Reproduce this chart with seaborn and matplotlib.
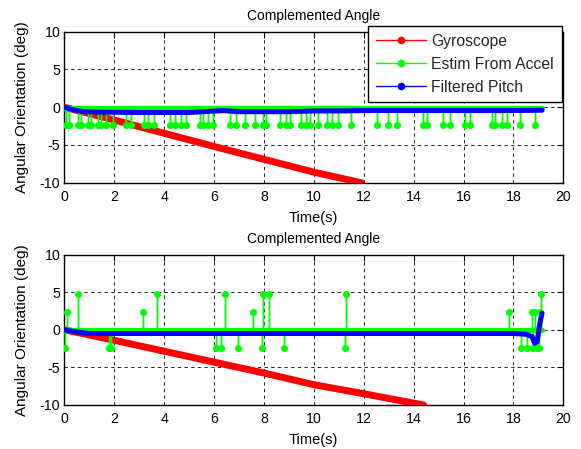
import numpy as np
import pandas as pd
import seaborn as sns
import matplotlib
matplotlib.use("Agg")
import matplotlib.pyplot as plt
from matplotlib.lines import Line2D

# ---------------- data ----------------
t_end_top = 19.15
t_end_bot = 19.15

gyro_top_t = [0.0, 2.0, 4.0, 6.0, 8.0, 10.0, 11.9]
gyro_top_v = [0.0, -1.7, -3.45, -5.2, -6.9, -8.6, -10.0]

accel_top_base = -0.1
accel_top_spike_t = [0.07, 0.2, 0.54, 0.67, 0.94, 1.07, 1.34, 1.47, 1.67, 1.94,
                     2.48, 2.68, 3.21, 3.35, 3.61, 4.22, 4.42, 4.69, 4.89, 5.42,
                     5.56, 5.76, 5.96, 6.63, 6.9, 7.23, 7.63, 7.97, 8.1, 8.63,
                     8.9, 9.04, 9.5, 9.7, 9.84, 10.17, 10.51, 10.71, 10.98, 11.51,
                     12.52, 12.98, 13.32, 14.39, 14.53, 15.19, 15.46, 16.06, 16.27,
                     17.14, 17.27, 17.54, 17.74, 18.27, 18.88]
accel_top_spike_level = -2.3

blue_top_t = [0.0, 0.3, 0.8, 1.5, 3.0, 5.0, 6.4, 7.0, 9.0, 10.0, 11.0, 12.0, 14.0, 16.0, 18.0, 19.15]
blue_top_v = [0.0, -0.3, -0.6, -0.65, -0.7, -0.7, -0.45, -0.6, -0.6, -0.5, -0.5, -0.45, -0.45, -0.45, -0.45, -0.4]

gyro_bot_t = [0.0, 2.0, 4.0, 6.0, 8.0, 10.0, 12.0, 14.4]
gyro_bot_v = [0.0, -1.4, -2.85, -4.3, -5.75, -7.3, -8.5, -10.0]

accel_bot_base = 0.0
accel_bot_spike_t = [0.02, 0.1, 0.53, 1.79, 1.86, 3.15, 3.72, 6.1, 6.27, 6.43,
                     6.97, 7.58, 7.91, 7.95, 8.19, 8.81, 11.24, 11.31, 17.83, 18.3,
                     18.54, 18.74, 18.8, 18.88, 18.95, 19.02, 19.06, 19.1]
accel_bot_spike_v = [-2.4, 2.3, 4.7, -2.4, -2.4, 2.3, 4.7, -2.4, -2.4, 4.7,
                     -2.4, 2.3, -2.4, 4.7, 4.7, -2.4, -2.4, 4.7, 2.3, -2.4,
                     -2.4, 2.3, -2.4, 2.3, -2.4, -2.4, 2.3, 4.7]

blue_bot_t = [0.0, 0.5, 1.0, 3.0, 6.0, 9.0, 12.0, 15.0, 18.0, 18.5, 18.75, 18.85, 18.95, 19.02, 19.08, 19.15]
blue_bot_v = [0.0, -0.3, -0.5, -0.5, -0.5, -0.5, -0.5, -0.5, -0.5, -0.6, -0.9, -1.8, -1.6, 0.0, 1.2, 2.2]

x_ticks = [0, 2, 4, 6, 8, 10, 12, 14, 16, 18, 20]
y_ticks = [-10, -5, 0, 5, 10]
title_text = "Complemented Angle"
x_label = "Time(s)"
y_label = "Angular Orientation (deg)"
legend_labels = ["Gyroscope", "Estim From Accel", "Filtered Pitch"]

RED, GREEN, BLUE = "#ff0000", "#00ff00", "#0000ff"

# ---------------- style ----------------
sns.set_theme(style="white")
plt.rcParams["font.family"] = ["Liberation Sans", "DejaVu Sans"]
plt.rcParams["font.size"] = 10
plt.rcParams["axes.unicode_minus"] = False

fig = plt.figure(figsize=(5.81, 4.49), dpi=100)
W, H = 581.0, 449.0
ax1 = fig.add_axes([64.3 / W, 1 - 182.7 / H, 499 / W, 151 / H])
ax2 = fig.add_axes([64.3 / W, 1 - 405.0 / H, 499 / W, 150.5 / H])


def draw(ax, gt, gv, base, spk_t, spk_v, t_end, bt, bv):
    sns.lineplot(x=gt, y=gv, color=RED, linewidth=5, estimator=None, sort=False,
                 ax=ax, solid_capstyle="round", zorder=3)
    sns.lineplot(x=[0.0, t_end], y=[base, base], color=GREEN, linewidth=3.8,
                 estimator=None, sort=False, ax=ax, solid_capstyle="round", zorder=4)
    seq_t = [0.0]
    seq_v = [base]
    for t, v in zip(spk_t, spk_v):
        seq_t += [t, t, t]
        seq_v += [base, v, base]
    seq_t.append(t_end)
    seq_v.append(base)
    df = pd.DataFrame({"t": seq_t, "v": seq_v})
    sns.lineplot(data=df, x="t", y="v", color=GREEN, linewidth=1.0, estimator=None,
                 sort=False, ax=ax, zorder=4)
    sns.scatterplot(x=spk_t, y=spk_v, color=GREEN, s=26, linewidth=0, ax=ax, zorder=5)
    sns.lineplot(x=bt, y=bv, color=BLUE, linewidth=3.6, estimator=None, sort=False,
                 ax=ax, solid_capstyle="round", zorder=6)

    ax.set_xlim(0, 20)
    ax.set_ylim(-10, 10)
    ax.set_xticks(x_ticks)
    ax.set_yticks(y_ticks)
    ax.grid(True, color="black", linestyle=(0, (4, 4)), linewidth=0.6)
    ax.set_axisbelow(True)
    ax.tick_params(direction="in", length=4, width=0.8, top=True, right=True,
                   labelsize=10.2, colors="black")
    ax.tick_params(axis="x", pad=5)
    ax.tick_params(axis="y", pad=3)
    for s in ax.spines.values():
        s.set_color("black")
        s.set_linewidth(1.0)
    ax.set_title(title_text, fontsize=10, pad=8.5, color="black")
    ax.set_xlabel(x_label, fontsize=10.5, va="center", color="black")
    ax.xaxis.set_label_coords(0.5, -35 / 151)
    ax.set_ylabel(y_label, fontsize=11, va="center", color="black")
    ax.yaxis.set_label_coords(-42.5 / 499, 0.5)


draw(ax1, gyro_top_t, gyro_top_v, accel_top_base, accel_top_spike_t,
     [accel_top_spike_level] * len(accel_top_spike_t), t_end_top, blue_top_t, blue_top_v)
draw(ax2, gyro_bot_t, gyro_bot_v, accel_bot_base, accel_bot_spike_t,
     accel_bot_spike_v, t_end_bot, blue_bot_t, blue_bot_v)

handles = [Line2D([], [], color=c, lw=1.0, marker="o", markersize=4.5)
           for c in (RED, GREEN, BLUE)]
leg = ax1.legend(handles, legend_labels, loc="upper right",
                 bbox_to_anchor=(0.997, 1.038), borderaxespad=0, fancybox=False,
                 edgecolor="black", framealpha=1, fontsize=11.3, handlelength=3.2,
                 handletextpad=0.35, labelspacing=0.5, borderpad=0.5)
leg.get_frame().set_linewidth(1.0)
leg.set_zorder(10)

fig.savefig("out.png", dpi=100)
